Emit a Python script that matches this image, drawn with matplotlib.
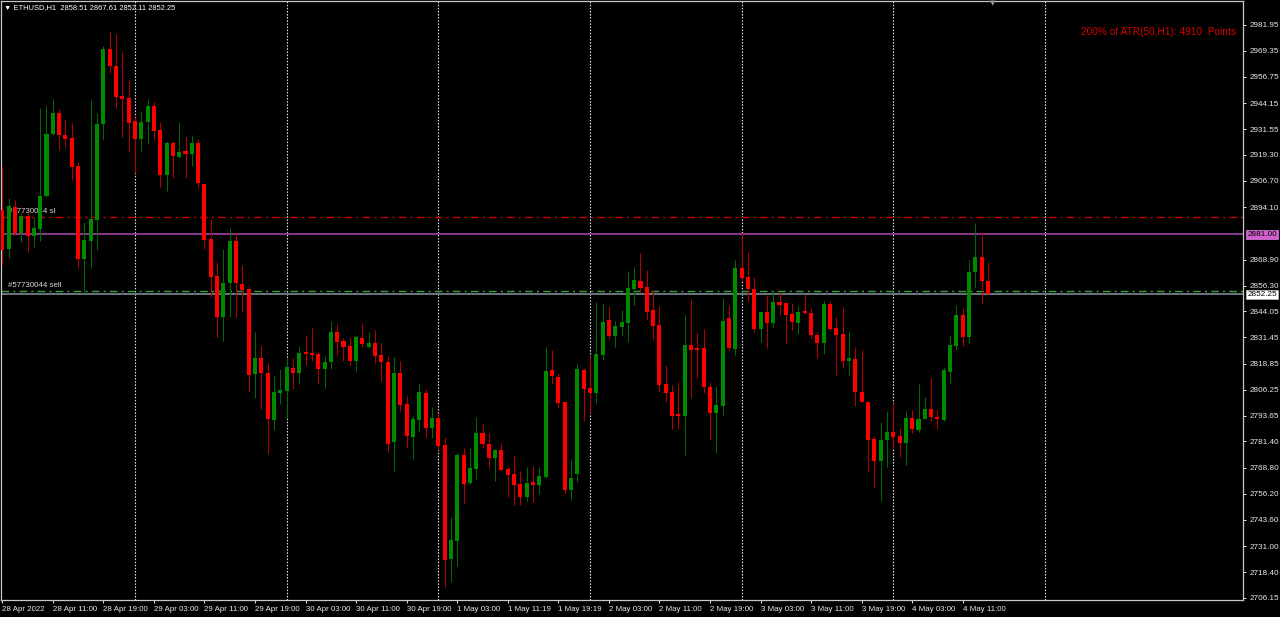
import matplotlib
matplotlib.use("Agg")
import matplotlib.pyplot as plt
from matplotlib.transforms import blended_transform_factory

FONT = ["Liberation Sans", "DejaVu Sans"]
plt.rcParams["font.family"] = FONT

# ---------------- data (ETHUSD, H1) ----------------
opens = [2892.8, 2874.0, 2894.2, 2881.7, 2889.9, 2880.2, 2883.6, 2899.5, 2929.3, 2939.4,
         2928.8, 2927.4, 2913.9, 2869.2, 2877.8, 2888.0, 2934.1, 2970.2, 2962.0, 2947.6,
         2946.6, 2935.6, 2926.9, 2935.1, 2942.8, 2931.2, 2909.6, 2925.0, 2918.3, 2921.1,
         2919.7, 2925.0, 2905.3, 2878.8, 2861.0, 2841.3, 2857.6, 2877.8, 2857.2, 2854.7,
         2813.8, 2821.5, 2814.3, 2791.7, 2804.7, 2805.7, 2816.7, 2814.3, 2823.9, 2823.9,
         2823.5, 2816.2, 2819.6, 2834.0, 2829.7, 2827.1, 2820.1, 2831.2, 2826.8, 2828.7,
         2823.0, 2819.6, 2781.1, 2814.3, 2799.4, 2783.5, 2791.7, 2804.7, 2787.8, 2792.7,
         2779.7, 2724.8, 2733.5, 2774.9, 2761.4, 2768.1, 2785.4, 2780.1, 2773.4, 2777.3,
         2768.1, 2765.7, 2760.9, 2754.6, 2761.9, 2760.4, 2764.3, 2815.8, 2812.4, 2800.4,
         2758.0, 2765.7, 2815.8, 2807.1, 2804.7, 2823.0, 2839.8, 2832.1, 2836.4, 2838.4,
         2854.7, 2858.6, 2855.7, 2844.6, 2837.4, 2809.0, 2805.2, 2794.1, 2793.6, 2827.8,
         2825.9, 2826.3, 2807.6, 2795.1, 2798.4, 2840.8, 2825.9, 2864.8, 2860.5, 2854.7,
         2835.5, 2843.7, 2838.4, 2848.5, 2848.0, 2842.7, 2838.4, 2843.7, 2843.2, 2832.6,
         2828.7, 2847.5, 2836.0, 2833.1, 2820.1, 2821.1, 2805.2, 2800.4, 2782.5, 2772.0,
         2782.1, 2785.9, 2784.0, 2780.6, 2792.7, 2786.9, 2792.2, 2797.0, 2793.1, 2791.7,
         2814.8, 2827.3, 2842.2, 2831.6, 2862.9, 2870.1, 2858.51]
highs = [2913.9, 2898.5, 2897.6, 2891.3, 2891.3, 2889.4, 2941.8, 2942.8, 2946.2, 2941.4,
         2936.5, 2934.6, 2915.9, 2886.9, 2945.7, 2939.4, 2971.7, 2978.9, 2977.4, 2968.8,
         2955.3, 2937.5, 2940.0, 2946.2, 2944.7, 2935.1, 2925.9, 2925.9, 2935.1, 2927.9,
         2928.8, 2926.9, 2905.7, 2888.4, 2867.5, 2874.0, 2884.1, 2881.7, 2866.3, 2856.2,
         2834.0, 2827.1, 2819.1, 2812.9, 2816.2, 2821.5, 2821.5, 2827.1, 2832.6, 2836.0,
         2824.4, 2822.5, 2839.3, 2837.9, 2831.2, 2831.6, 2832.6, 2838.4, 2834.0, 2835.0,
         2828.7, 2822.5, 2822.0, 2820.1, 2803.2, 2793.6, 2809.5, 2806.6, 2797.9, 2795.1,
         2783.5, 2745.0, 2775.8, 2778.2, 2778.2, 2793.1, 2789.8, 2785.4, 2777.7, 2780.6,
         2769.6, 2774.4, 2767.2, 2769.1, 2769.6, 2769.1, 2826.8, 2825.4, 2813.8, 2800.6,
         2772.9, 2818.6, 2816.7, 2822.5, 2848.5, 2848.0, 2846.5, 2839.3, 2844.6, 2863.4,
         2865.3, 2872.0, 2863.9, 2854.2, 2846.5, 2818.2, 2808.5, 2810.0, 2842.2, 2849.9,
         2833.6, 2835.5, 2810.0, 2808.1, 2850.4, 2847.0, 2868.7, 2881.7, 2872.5, 2860.5,
         2844.2, 2851.4, 2854.2, 2853.3, 2848.2, 2848.0, 2846.5, 2852.3, 2845.6, 2834.0,
         2849.0, 2849.0, 2841.3, 2846.1, 2834.5, 2826.8, 2825.4, 2800.8, 2784.0, 2790.7,
         2796.0, 2799.9, 2787.8, 2796.0, 2796.5, 2809.0, 2802.8, 2811.9, 2796.5, 2817.2,
         2832.6, 2847.0, 2845.6, 2868.7, 2886.5, 2882.2, 2867.61]
lows = [2866.3, 2869.7, 2880.7, 2877.4, 2872.5, 2875.0, 2877.8, 2899.0, 2928.8, 2921.6,
        2923.1, 2907.2, 2864.8, 2852.8, 2864.8, 2873.5, 2926.4, 2958.7, 2941.8, 2927.9,
        2920.6, 2910.5, 2920.6, 2924.4, 2926.4, 2903.8, 2901.9, 2908.1, 2917.8, 2908.1,
        2913.9, 2903.3, 2874.0, 2850.9, 2831.6, 2829.7, 2841.3, 2841.3, 2843.7, 2805.7,
        2802.3, 2797.0, 2775.3, 2786.9, 2799.4, 2792.7, 2806.6, 2809.5, 2818.2, 2820.1,
        2809.0, 2807.1, 2816.2, 2823.0, 2820.1, 2818.2, 2815.3, 2826.8, 2826.3, 2819.1,
        2810.5, 2776.3, 2767.2, 2796.0, 2778.2, 2772.9, 2786.4, 2783.5, 2783.0, 2777.3,
        2711.3, 2713.7, 2721.4, 2751.8, 2760.9, 2763.3, 2778.2, 2768.6, 2762.4, 2767.2,
        2754.6, 2750.8, 2750.8, 2752.7, 2752.2, 2756.1, 2763.8, 2809.0, 2797.5, 2756.1,
        2753.2, 2761.9, 2791.2, 2795.1, 2799.9, 2820.6, 2830.7, 2826.8, 2832.1, 2829.2,
        2847.0, 2853.3, 2839.8, 2830.2, 2805.2, 2800.4, 2787.4, 2787.4, 2774.9, 2802.3,
        2811.9, 2804.7, 2782.5, 2775.8, 2794.1, 2824.9, 2823.0, 2858.6, 2849.0, 2834.0,
        2829.2, 2826.3, 2836.4, 2842.2, 2828.7, 2835.0, 2833.1, 2842.7, 2831.2, 2821.5,
        2823.5, 2834.5, 2813.4, 2816.7, 2813.4, 2798.4, 2800.2, 2767.2, 2759.0, 2752.7,
        2769.1, 2778.2, 2773.9, 2770.0, 2785.4, 2785.9, 2792.0, 2791.2, 2787.4, 2791.2,
        2809.0, 2825.4, 2827.3, 2828.7, 2855.2, 2848.0, 2852.11]
closes = [2873.5, 2894.7, 2881.7, 2889.9, 2880.2, 2884.1, 2899.5, 2929.3, 2939.4, 2928.8,
          2926.9, 2913.4, 2869.2, 2878.3, 2888.4, 2934.1, 2970.2, 2962.0, 2947.1, 2946.2,
          2934.6, 2926.9, 2935.1, 2942.8, 2930.8, 2909.6, 2925.0, 2918.7, 2920.6, 2919.7,
          2925.0, 2905.7, 2878.3, 2860.5, 2841.3, 2857.6, 2877.8, 2857.6, 2854.2, 2813.4,
          2821.5, 2814.3, 2792.2, 2805.2, 2806.1, 2817.2, 2814.3, 2823.9, 2823.5, 2823.0,
          2816.2, 2819.6, 2834.0, 2829.2, 2826.8, 2820.1, 2831.6, 2828.3, 2828.7, 2822.5,
          2819.6, 2780.1, 2814.3, 2798.9, 2784.0, 2792.2, 2805.2, 2787.8, 2792.7, 2779.1,
          2724.3, 2733.9, 2774.9, 2760.9, 2768.6, 2785.4, 2780.1, 2773.4, 2777.3, 2767.6,
          2765.2, 2760.4, 2754.6, 2761.4, 2760.4, 2764.7, 2815.3, 2812.9, 2799.9, 2758.0,
          2763.8, 2816.2, 2806.6, 2804.7, 2823.5, 2838.9, 2832.1, 2836.9, 2838.9, 2855.2,
          2859.1, 2855.2, 2843.7, 2836.9, 2808.5, 2804.7, 2793.6, 2793.6, 2827.8, 2825.4,
          2825.4, 2807.6, 2795.1, 2798.9, 2839.3, 2826.3, 2864.8, 2860.0, 2854.7, 2835.5,
          2843.7, 2838.4, 2848.5, 2847.0, 2842.2, 2838.9, 2843.7, 2843.2, 2832.6, 2828.7,
          2847.5, 2835.5, 2832.6, 2820.1, 2821.5, 2805.2, 2800.4, 2782.1, 2772.0, 2782.1,
          2785.9, 2783.5, 2780.6, 2792.7, 2787.4, 2792.2, 2797.0, 2793.1, 2792.2, 2815.8,
          2827.8, 2842.2, 2831.6, 2862.9, 2870.1, 2858.6, 2852.25]

time_labels = ["28 Apr 2022", "28 Apr 11:00", "28 Apr 19:00", "29 Apr 03:00", "29 Apr 11:00",
               "29 Apr 19:00", "30 Apr 03:00", "30 Apr 11:00", "30 Apr 19:00", "1 May 03:00",
               "1 May 11:19", "1 May 19:19", "2 May 03:00", "2 May 11:00", "2 May 19:00",
               "3 May 03:00", "3 May 11:00", "3 May 19:00", "4 May 03:00", "4 May 11:00"]
time_label_bars = list(range(0, 160, 8))
price_ticks = [2981.95, 2969.35, 2956.75, 2944.15, 2931.55, 2919.30, 2906.70, 2894.10,
               2868.90, 2856.30, 2844.05, 2831.45, 2818.85, 2806.25, 2793.65, 2781.40,
               2768.80, 2756.20, 2743.60, 2731.00, 2718.40, 2706.15]
grid_bars = [21, 45, 69, 93, 117, 141, 165]

sl_price = 2889.2
level_price = 2881.00
entry_price = 2853.8
bid_price = 2852.25
header = "\u25BC ETHUSD,H1  2858.51 2867.61 2852.11 2852.25"
atr_text = "200% of ATR(50,H1): 4910  Points"

# ---------------- drawing ----------------
W, H = 1280, 617
fig = plt.figure(figsize=(W / 100, H / 100), dpi=100, facecolor="black")
left_px, right_px, top_px, bot_px = 1, 1243, 1, 600
ax = fig.add_axes([left_px / W, 1 - bot_px / H, (right_px - left_px) / W, (bot_px - top_px) / H])
ax.set_facecolor("black")

ax.set_xlim(-0.2, 196.35)
ax.set_ylim(2705.1, 2993.3)

# vertical dotted grid
for gb in grid_bars:
    ax.axvline(gb, color="#e0e0e0", lw=0.8, ls=(0, (1.4, 1.4)), zorder=1)

# order lines
ax.axhline(sl_price, color="#c80000", lw=1.0, ls=(0, (5.5, 3, 1.5, 3)), zorder=2)
ax.axhline(level_price, color="#8a3a8a", lw=1.4, zorder=2)
ax.axhline(entry_price, color="#3aa03a", lw=1.0, ls=(0, (5.5, 3, 1.5, 3)), zorder=2)
ax.axhline(bid_price, color="#6a7780", lw=1.4, zorder=2)

bt = blended_transform_factory(ax.transAxes, ax.transData)
ax.text(0.0056, sl_price + 1.0, "#57730044 sl", transform=bt,
        color="#d8d8d8", fontsize=5.7, va="bottom", ha="left", zorder=2)
ax.text(0.0056, entry_price + 1.0, "#57730044 sell", transform=bt,
        color="#d8d8d8", fontsize=5.7, va="bottom", ha="left", zorder=2)

# candles
bw = 0.64
for i, (o, h, l, c) in enumerate(zip(opens, highs, lows, closes)):
    up = c >= o
    wick_col = "#006a00" if up else "#b40000"
    body_col = "#008a00" if up else "#ff0000"
    ax.vlines(i, l, h, color=wick_col, lw=0.75, zorder=3)
    lo = min(o, c)
    hgt = max(abs(c - o), 0.9)
    ax.bar(i, hgt, bottom=lo, width=bw, color=body_col, linewidth=0, zorder=4)

# spines
for s in ax.spines.values():
    s.set_color("#c8c8c8")
    s.set_linewidth(0.9)

# y axis on right
ax.yaxis.tick_right()
ax.set_yticks(price_ticks)
ax.set_yticklabels([f"{p:.2f}" for p in price_ticks])
ax.tick_params(axis="y", direction="out", length=2.5, width=0.7, colors="#e8e8e8",
               labelsize=5.9, pad=2)

# x axis
ax.set_xticks(time_label_bars)
ax.set_xticklabels(time_labels)
ax.tick_params(axis="x", direction="out", length=2.5, width=0.7, colors="#e8e8e8",
               labelsize=5.7, pad=1.5)
for lab in ax.get_xticklabels():
    lab.set_horizontalalignment("left")

# price boxes on the right axis
ax.text(1.0035, level_price, "2881.00", transform=bt, fontsize=5.9, color="black",
        va="center", ha="left", zorder=10, clip_on=False,
        bbox=dict(boxstyle="square,pad=0.12", fc="#d060d0", ec="#e080e0", lw=0.5))
ax.text(1.0035, bid_price, "2852.25", transform=bt, fontsize=5.9, color="black",
        va="center", ha="left", zorder=10, clip_on=False,
        bbox=dict(boxstyle="square,pad=0.12", fc="white", ec="#c0c0c0", lw=0.5))

# header & ATR text
fig.text(4 / W, 1 - 8 / H, header, color="white", fontsize=5.4, va="center", ha="left")
fig.text(1236 / W, 1 - 32 / H, atr_text, color="#d40000", fontsize=7.3, va="center", ha="right")

# chart-shift marker
fig.text(993 / W, 1 - 3 / H, "\u25BC", color="#909090", fontsize=5, va="center", ha="center",
         family=["DejaVu Sans"])

fig.savefig("out.png", dpi=100, facecolor="black")
